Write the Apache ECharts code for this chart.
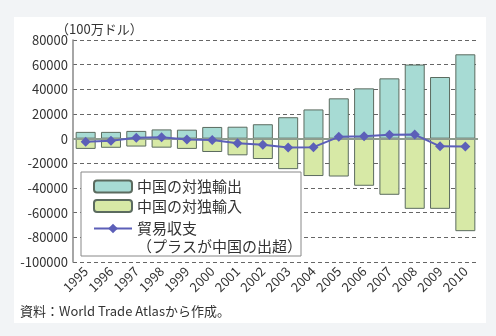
<!DOCTYPE html>
<html>
<head>
<meta charset="utf-8">
<script src="https://cdn.jsdelivr.net/npm/echarts@6/dist/echarts.min.js"></script>
<style>
  html, body { margin: 0; padding: 0; background: #f2f4f6; }
  #chart { width: 496px; height: 336px; }
</style>
</head>
<body>
<div id="chart"></div>
<script>
// China–Germany trade, million USD
const years = ['1995', '1996', '1997', '1998', '1999', '2000', '2001', '2002',
               '2003', '2004', '2005', '2006', '2007', '2008', '2009', '2010'];
const exportsToGermany = [5500, 5500, 6300, 7500, 7300, 9500, 9700, 11700,
                          17400, 23700, 32700, 40800, 48900, 60100, 50000, 68400];
const importsFromGermany = [-8300, -7400, -6400, -7300, -8300, -10800, -13500, -16500,
                            -24700, -30300, -30700, -38200, -45500, -56900, -56900, -75000];
const tradeBalance = [-2500, -1700, 700, 1100, -600, -1000, -3800, -5000,
                      -7200, -6900, 1500, 2000, 3200, 3300, -6200, -6300];

const FONT = '"Noto Sans CJK JP", "Noto Sans", sans-serif';
const chart = echarts.init(document.getElementById('chart'), null, { renderer: 'canvas' });

chart.setOption({
  backgroundColor: '#f2f4f6',
  animation: false,
  textStyle: { fontFamily: FONT },
  graphic: [
    { type: 'rect', z: -10, shape: { x: 14, y: 17, width: 472, height: 306 }, style: { fill: '#ffffff' } },
    { type: 'text', z: 100, x: 56, y: 29,
      style: { text: '（100万ドル）', font: '13px ' + FONT, fill: '#333', verticalAlign: 'middle' } },
    { type: 'text', z: 100, left: 20, top: 305,
      style: { text: '資料：World Trade Atlasから作成。', font: '13px ' + FONT, fill: '#333' } },
    { type: 'text', z: 100, x: 137, y: 246,
      style: { text: '（プラスが中国の出超）', font: '15px ' + FONT, fill: '#333', verticalAlign: 'middle' } }
  ],
  grid: { left: 73, right: 18, top: 40, bottom: 74 },
  legend: {
    orient: 'vertical',
    left: 81, top: 172,
    backgroundColor: '#ffffff',
    borderColor: '#888',
    borderWidth: 1,
    padding: [7, 59, 17, 12],
    itemGap: 4.5,
    itemWidth: 38,
    itemHeight: 12,
    textStyle: { fontSize: 15, color: '#333', fontFamily: FONT },
    data: [
      { name: '中国の対独輸出' },
      { name: '中国の対独輸入' },
      { name: '貿易収支', textStyle: { lineHeight: 21 } }
    ]
  },
  xAxis: {
    type: 'category',
    data: years,
    axisLine: { show: false, onZero: false },
    axisTick: { show: false },
    axisLabel: { rotate: 45, fontSize: 13, color: '#333', margin: 7, interval: 0 }
  },
  yAxis: {
    type: 'value',
    min: -100000, max: 80000, interval: 20000,
    axisLine: { show: true, lineStyle: { color: '#888', width: 1.5 } },
    axisTick: { show: false },
    axisLabel: { fontSize: 13, color: '#333', margin: 5, formatter: (v) => String(v) },
    splitLine: { lineStyle: { color: '#666', type: [4, 3], width: 1 } }
  },
  series: [
    {
      name: '中国の対独輸出',
      type: 'bar',
      stack: 'trade',
      barWidth: 20,
      data: exportsToGermany,
      itemStyle: { color: '#a7dbd4', borderColor: '#5b6b5f', borderWidth: 1 },
      markLine: {
        silent: true,
        symbol: 'none',
        label: { show: false },
        lineStyle: { color: '#8e9c8e', type: 'solid', width: 2 },
        data: [{ yAxis: 0 }]
      }
    },
    {
      name: '中国の対独輸入',
      type: 'bar',
      stack: 'trade',
      barWidth: 20,
      data: importsFromGermany,
      itemStyle: { color: '#d7e9a6', borderColor: '#5b6b5f', borderWidth: 1 }
    },
    {
      name: '貿易収支',
      type: 'line',
      data: tradeBalance,
      symbol: 'diamond',
      symbolSize: 10,
      z: 5,
      lineStyle: { color: '#5c5fb8', width: 2 },
      itemStyle: { color: '#5c5fb8' }
    }
  ]
});
</script>
</body>
</html>
